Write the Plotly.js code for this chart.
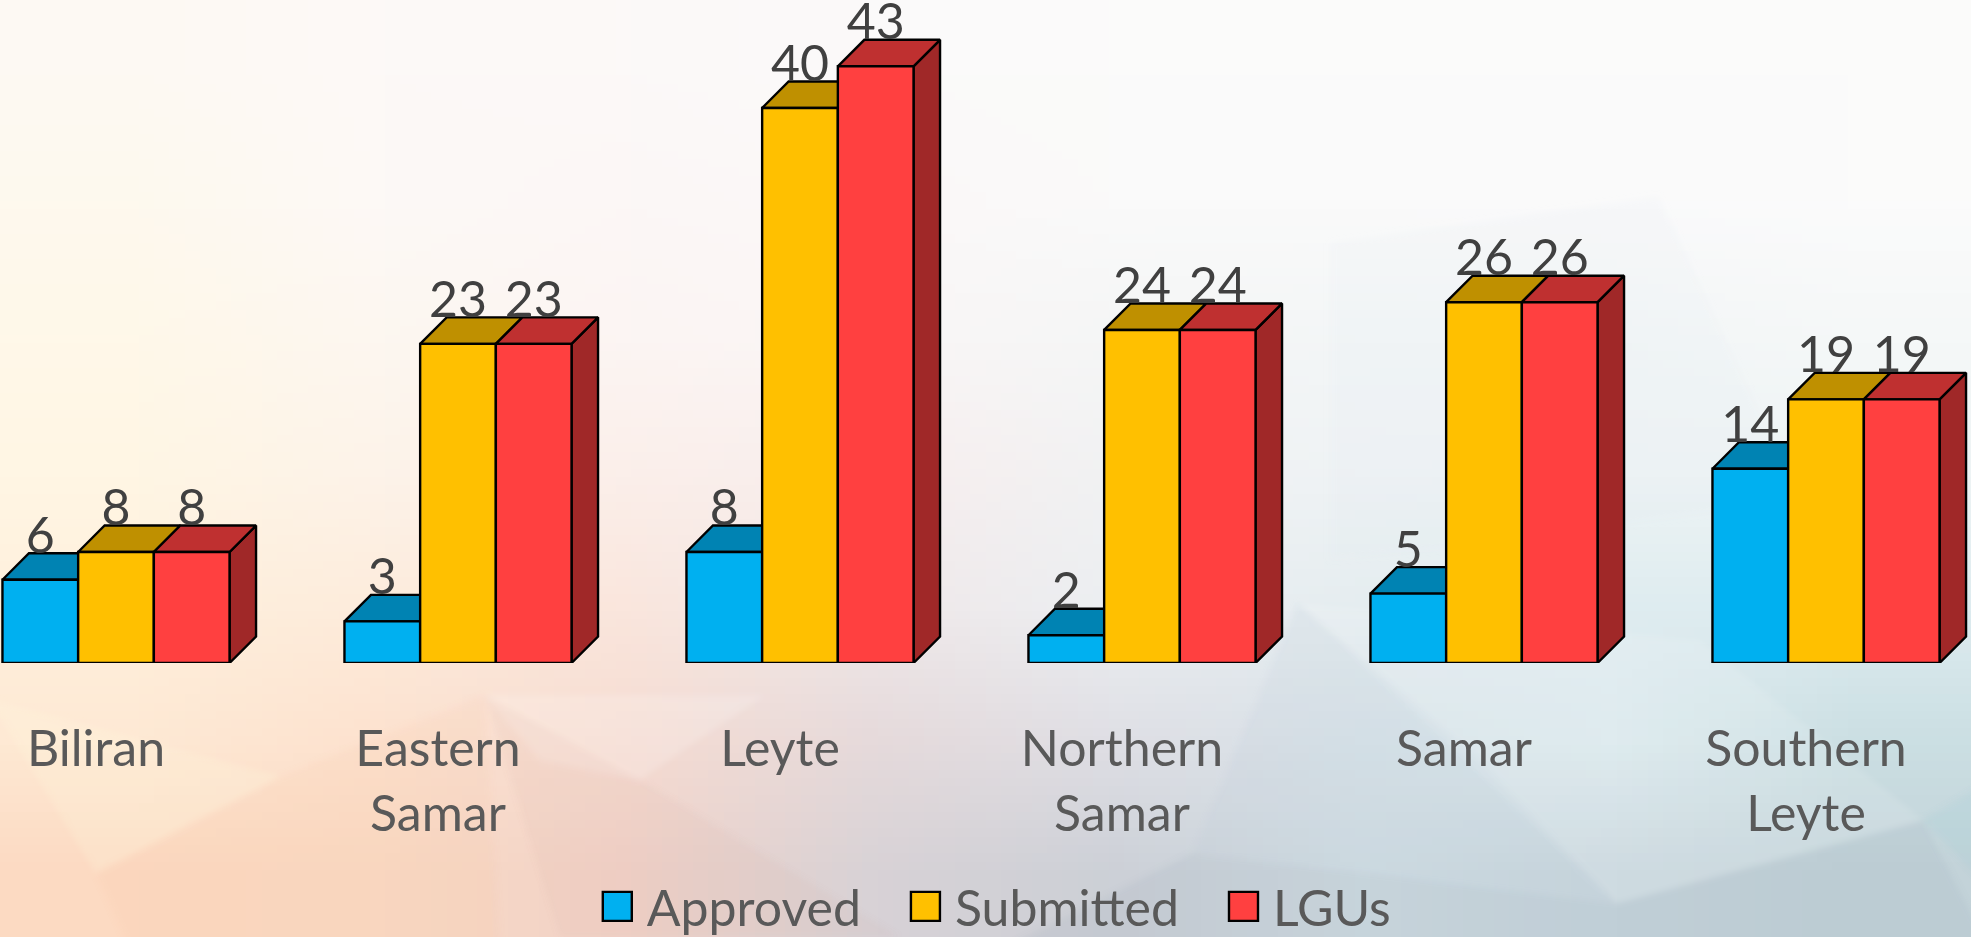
<!DOCTYPE html>
<html><head><meta charset="utf-8">
<script src="https://cdn.plot.ly/plotly-3.0.1.min.js"></script>
<style>
html,body{margin:0;padding:0;width:1971px;height:937px;overflow:hidden;background:#fbf9f8}
#bgc,#bg,#chart{position:absolute;left:0;top:0;width:1971px;height:937px}
</style></head><body>
<canvas id="bgc" width="8" height="7"></canvas>
<svg id="bg" viewBox="0 0 1971 937">
<defs><filter id="soft" x="-5%" y="-5%" width="110%" height="110%"><feGaussianBlur stdDeviation="3"/></filter></defs>
<g filter="url(#soft)">
<polygon fill="rgba(225,233,238,.13)" points="1330,243 1659,196 1800,500 1480,545 1330,560"/>
<polygon fill="rgba(185,200,212,.14)" points="1298,603 1193,853 1617,903 1480,760"/>
<polygon fill="rgba(255,255,255,.12)" points="1298,603 1617,903 1923,820 1700,640"/>
<polygon fill="rgba(140,155,170,.12)" points="1193,853 1617,903 1923,820 1990,950 1000,950"/>
<polygon fill="rgba(120,200,205,.10)" points="1923,820 1990,780 1990,890"/>
<polygon fill="rgba(255,255,255,.18)" points="485,695 765,695 640,780 540,760"/>
<polygon fill="rgba(200,150,140,.08)" points="485,695 640,780 900,937 560,937"/>
<polygon fill="rgba(245,190,150,.10)" points="280,777 96,873 130,950 500,950 485,695"/>
<polygon fill="rgba(255,250,225,.22)" points="-10,700 280,777 96,873"/>
</g>
</svg>
<div id="chart"></div>
<script>
const categories = ["Biliran","Eastern<br>Samar","Leyte","Northern<br>Samar","Samar","Southern<br>Leyte"];
const approved  = [6,3,8,2,5,14];
const submitted = [8,23,40,24,26,19];
const lgus      = [8,23,43,24,26,19];
const seriesNames = ["Approved","Submitted","LGUs"];
const frontColors = ["#00B0F0","#FFC000","#FF4040"];
const topColors   = ["#0083B3","#BF9000","#BF3030"];
const sideColors  = ["#00749F","#9F7800","#A02828"];
const backdropRows = [
 ["#fdf9f3","#fdf9f7","#fcf9f8","#fbfafa","#fbfbfa","#fbfbfa","#fbfbfa","#fbfbfa"],
 ["#fef9ee","#fdf9f6","#fcf7f6","#fbf8f8","#fafafa","#fafafa","#fafafb","#fbfbfb"],
 ["#fff8e9","#fdf7f0","#fcf5f3","#faf6f6","#f5f6f6","#f3f6f7","#f3f6f7","#f5f8f8"],
 ["#fff6e4","#fdf3e9","#fbefea","#f8eeee","#f1f2f3","#eff3f5","#eef4f5","#eef4f5"],
 ["#fff0dc","#fdecdc","#fae6dd","#f0e8e9","#eceff2","#e5edf0","#dfecf0","#deecf0"],
 ["#fee9d4","#fde2cf","#f6dcd2","#e6dadb","#dfdfe5","#d8e3e9","#dbe9ed","#cbdfe3"],
 ["#fcdac2","#fadac4","#f1d2c8","#d8d2d6","#ccd0d7","#cfdce2","#c8d6dd","#c3d3d9"]
];
const ctx=document.getElementById("bgc").getContext("2d");
backdropRows.forEach((row,r)=>row.forEach((c,k)=>{ctx.fillStyle=c;ctx.fillRect(k,r,1,1);}));

const W=1971,H=937,plotBottom=662.7,pxUnit=13.87,period=342,firstCenter=116;
const xRange=[-firstCenter/period,(W-firstCenter)/period];
const yRange=[0,plotBottom/pxUnit];
const groupW=0.664,barW=groupW/3,dx=26.5/period,dy=26.5/pxUnit;
const tickShift=-20/period,labelDrop=12/pxUnit;
const idx=categories.map((_,i)=>i);
const allSeries=[approved,submitted,lgus];
const edge=2.4;

const traces=[];
allSeries.forEach((vals,s)=>{
  const sideX=[],sideY=[],topX=[],topY=[];
  vals.forEach((v,i)=>{
    const l=i-groupW/2+s*barW,r=l+barW;
    sideX.push(r,r+dx,r+dx,r,r,null);sideY.push(0,dy,v+dy,v,0,null);
    topX.push(l,l+dx,r+dx,r,l,null);topY.push(v,v+dy,v+dy,v,v,null);
  });
  traces.push({type:"scatter",mode:"lines",x:sideX,y:sideY,fill:"toself",fillcolor:sideColors[s],line:{color:"#000",width:edge},showlegend:false,hoverinfo:"skip",xaxis:"x",yaxis:"y",cliponaxis:false});
  traces.push({type:"scatter",mode:"lines",x:topX,y:topY,fill:"toself",fillcolor:topColors[s],line:{color:"#000",width:edge},showlegend:false,hoverinfo:"skip",xaxis:"x",yaxis:"y",cliponaxis:false});
});
allSeries.forEach((vals,s)=>{
  traces.push({type:"bar",name:seriesNames[s],x:idx,y:vals,marker:{color:frontColors[s],line:{color:"#000",width:edge}},xaxis:"x2",yaxis:"y2"});
});
allSeries.forEach((vals,s)=>{
  traces.push({type:"scatter",mode:"text",x:idx.map(i=>i-groupW/2+(s+0.5)*barW),y:vals.map(v=>v+dy-labelDrop),text:vals.map(String),textposition:"top center",textfont:{family:"Lato",size:50,color:"#404040"},showlegend:false,hoverinfo:"skip",xaxis:"x2",yaxis:"y2",cliponaxis:false});
});

const layout={
  width:W,height:H,
  paper_bgcolor:"rgba(0,0,0,0)",plot_bgcolor:"rgba(0,0,0,0)",
  margin:{l:0,r:0,t:0,b:H-plotBottom,pad:0,autoexpand:false},
  barmode:"group",bargap:1-groupW,bargroupgap:0,
  font:{family:"Lato",color:"#595959"},
  showlegend:true,
  legend:{orientation:"h",x:0.283,xanchor:"left",y:(plotBottom-906)/plotBottom,yanchor:"middle",bgcolor:"rgba(0,0,0,0)",font:{family:"Lato",size:50,color:"#595959"},itemwidth:79,traceorder:"normal"},
  xaxis:{range:xRange,tickmode:"array",tickvals:idx.map(i=>i+tickShift),ticktext:categories,showgrid:false,zeroline:false,showline:false,ticks:"",tickfont:{family:"Lato",size:50,color:"#595959"},ticklabelstandoff:52,tickangle:0,fixedrange:true},
  yaxis:{range:yRange,visible:false,showgrid:false,zeroline:false,fixedrange:true},
  xaxis2:{range:xRange,overlaying:"x",visible:false,fixedrange:true,anchor:"y2"},
  yaxis2:{range:yRange,overlaying:"y",visible:false,fixedrange:true,anchor:"x2"}
};

function polish(){
  document.querySelectorAll("#chart .legend .traces path").forEach(p=>{
    if((p.getAttribute("d")||"").length){
      p.setAttribute("d","M14.5,14.5H-14.5V-14.5H14.5Z");
      p.setAttribute("transform","translate(59.5,0)");
    }
  });
}
Plotly.newPlot("chart",traces,layout,{displayModeBar:false,staticPlot:true}).then(gd=>{
  polish();
  gd.on&&gd.on("plotly_afterplot",polish);
  [0,50,200,500,1000].forEach(t=>setTimeout(polish,t));
});
</script>
</body></html>
